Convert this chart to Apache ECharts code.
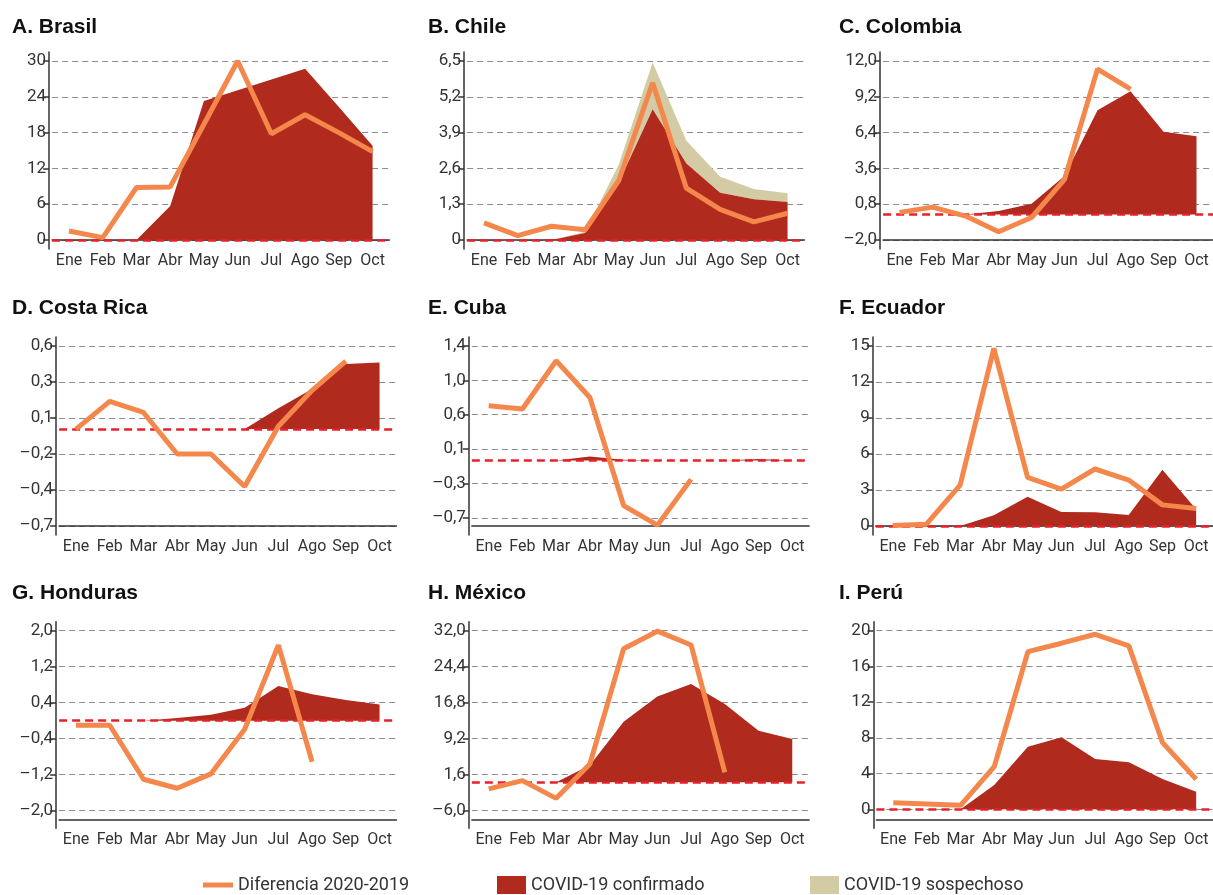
<!DOCTYPE html>
<html>
<head>
<meta charset="utf-8">
<script src="https://cdn.jsdelivr.net/npm/echarts@6/dist/echarts.min.js"></script>
<style>
  html, body { margin: 0; padding: 0; background: #fff; }
  #chart { width: 1213px; height: 895px; }
</style>
</head>
<body>
<div id="chart"></div>
<script>
const meses = ["Ene", "Feb", "Mar", "Abr", "May", "Jun", "Jul", "Ago", "Sep", "Oct"];

// Diferencia 2020-2019 and COVID-19 confirmado, one pair per country
const brasilDif = [1.5, 0.4, 8.8, 8.9, 19.4, 30, 17.8, 21.0, 18.0, 14.8];
const brasilConf = [null, null, 0, 5.7, 23.3, 25.1, 26.9, 28.7, 22.3, 15.8];

const chileDif = [0.62, 0.16, 0.5, 0.37, 2.17, 5.71, 1.88, 1.11, 0.66, 0.97];
const chileConf = [null, null, 0, 0.25, 2.1, 4.75, 2.78, 1.72, 1.48, 1.38];
const chileSosp = [null, null, 0, 0.05, 0.65, 1.7, 0.82, 0.58, 0.37, 0.32];

const colombiaDif = [0.16, 0.57, -0.13, -1.35, -0.24, 2.75, 11.37, 9.8, null, null];
const colombiaConf = [null, null, 0, 0.26, 0.83, 3.0, 8.15, 9.63, 6.46, 6.12];

const costaRicaDif = [0, 0.2, 0.12, -0.18, -0.18, -0.415, 0.02, 0.28, 0.49, null];
const costaRicaConf = [null, null, 0, 0, 0, 0, 0.15, 0.29, 0.47, 0.48];

const cubaDif = [0.67, 0.63, 1.22, 0.77, -0.55, -0.79, -0.23, null, null, null];
const cubaConf = [null, null, 0, 0.05, 0.01, 0, 0, 0, 0.02, 0];

const ecuadorDif = [0.05, 0.15, 3.4, 14.8, 4.05, 3.07, 4.75, 3.83, 1.76, 1.45];
const ecuadorConf = [null, null, 0, 0.9, 2.43, 1.17, 1.15, 0.92, 4.69, 1.4];

const hondurasDif = [-0.1, -0.1, -1.3, -1.5, -1.18, -0.19, 1.68, -0.91, null, null];
const hondurasConf = [null, null, 0, 0.06, 0.13, 0.29, 0.77, 0.59, 0.46, 0.36];

const mexicoDif = [-1.4, 0.35, -3.4, 3.86, 28.2, 31.9, 28.98, 2.1, null, null];
const mexicoConf = [null, null, 0, 3.6, 12.8, 18.1, 20.75, 16.5, 10.9, 9.14];

const peruDif = [0.74, 0.6, 0.45, 4.77, 17.65, 18.6, 19.6, 18.3, 7.46, 3.36];
const peruConf = [null, null, 0, 2.72, 7.0, 8.06, 5.63, 5.26, 3.39, 1.97];

// tick values and the labels printed next to them
const brasilTicks = [0, 6, 12, 18, 24, 30];
const brasilLabels = ["0", "6", "12", "18", "24", "30"];
const chileTicks = [0, 1.3, 2.6, 3.9, 5.2, 6.5];
const chileLabels = ["0", "1,3", "2,6", "3,9", "5,2", "6,5"];
const colombiaTicks = [-2, 0.8, 3.6, 6.4, 9.2, 12];
const colombiaLabels = ["\u20132,0", "0,8", "3,6", "6,4", "9,2", "12,0"];
const costaRicaTicks = [-0.7, -0.44, -0.18, 0.08, 0.34, 0.6];
const costaRicaLabels = ["\u20130,7", "\u20130,4", "\u20130,2", "0,1", "0,3", "0,6"];
const cubaTicks = [-0.7, -0.28, 0.14, 0.56, 0.98, 1.4];
const cubaLabels = ["\u20130,7", "\u20130,3", "0,1", "0,6", "1,0", "1,4"];
const ecuadorTicks = [0, 3, 6, 9, 12, 15];
const ecuadorLabels = ["0", "3", "6", "9", "12", "15"];
const hondurasTicks = [-2, -1.2, -0.4, 0.4, 1.2, 2];
const hondurasLabels = ["\u20132,0", "\u20131,2", "\u20130,4", "0,4", "1,2", "2,0"];
const mexicoTicks = [-6, 1.6, 9.2, 16.8, 24.4, 32];
const mexicoLabels = ["\u20136,0", "1,6", "9,2", "16,8", "24,4", "32,0"];
const peruTicks = [0, 4, 8, 12, 16, 20];
const peruLabels = ["0", "4", "8", "12", "16", "20"];

const panels = [
  { title: "A. Brasil", dif: brasilDif, conf: brasilConf, ticks: brasilTicks, labels: brasilLabels, base: 0 },
  { title: "B. Chile", dif: chileDif, conf: chileConf, sosp: chileSosp, ticks: chileTicks, labels: chileLabels, base: 0 },
  { title: "C. Colombia", dif: colombiaDif, conf: colombiaConf, ticks: colombiaTicks, labels: colombiaLabels, base: -2 },
  { title: "D. Costa Rica", dif: costaRicaDif, conf: costaRicaConf, ticks: costaRicaTicks, labels: costaRicaLabels, base: -0.7 },
  { title: "E. Cuba", dif: cubaDif, conf: cubaConf, ticks: cubaTicks, labels: cubaLabels, base: -0.8 },
  { title: "F. Ecuador", dif: ecuadorDif, conf: ecuadorConf, ticks: ecuadorTicks, labels: ecuadorLabels, base: 0 },
  { title: "G. Honduras", dif: hondurasDif, conf: hondurasConf, ticks: hondurasTicks, labels: hondurasLabels, base: -2.19 },
  { title: "H. M\u00e9xico", dif: mexicoDif, conf: mexicoConf, ticks: mexicoTicks, labels: mexicoLabels, base: -7.82 },
  { title: "I. Per\u00fa", dif: peruDif, conf: peruConf, ticks: peruTicks, labels: peruLabels, base: -1.12 },
];

// layout (pixels)
const rowTopTick = [61, 346, 630.7];
const rowAxisY = [240, 526, 819.3];
const rowTitleTop = [17, 298, 583];
const colTitleLeft = [12, 428, 839];
const eneX = [[69, 484, 900], [76, 488.7, 892.7], [76, 488.7, 893.3]];
const step = 33.73;
const ext = 9;

const ORANGE = "#f4874b";
const RED = "#b02a1d";
const BEIGE = "#d2cba3";
const ZERO = "#e8202a";
const TXT = "#333";
const FONT = "Roboto, sans-serif";

const chart = echarts.init(document.getElementById("chart"));

const grid = [], xAxis = [], yAxis = [], series = [], title = [];

panels.forEach((p, i) => {
  const r = Math.floor(i / 3), c = i % 3;
  const plotH = rowAxisY[r] - rowTopTick[r];
  const top = p.ticks[p.ticks.length - 1];
  const perPx = (top - p.base) / plotH;

  title.push({
    text: p.title,
    left: colTitleLeft[c],
    top: rowTitleTop[r],
    padding: 0,
    textStyle: { fontFamily: '"Liberation Sans", Arial, sans-serif', fontWeight: "bold", fontSize: 21, color: "#111" },
  });

  grid.push({
    left: eneX[r][c] - step / 2,
    top: rowTopTick[r] - ext,
    width: step * 10,
    height: plotH + ext * 2,
  });

  xAxis.push({
    type: "category",
    gridIndex: i,
    data: meses,
    boundaryGap: true,
    offset: -ext,
    axisLine: { onZero: false, lineStyle: { color: TXT, width: 1.5 } },
    axisTick: { alignWithLabel: true, length: 8, lineStyle: { color: TXT, width: 1.5 } },
    axisLabel: { interval: 0, margin: 13, fontFamily: FONT, fontSize: 16, color: TXT },
    splitLine: { show: false },
  });

  yAxis.push({
    type: "value",
    gridIndex: i,
    min: p.base - ext * perPx,
    max: top + ext * perPx,
    offset: 3,
    axisLine: { show: true, lineStyle: { color: TXT, width: 1.5 } },
    axisTick: { show: true, length: 6, customValues: p.ticks, lineStyle: { color: TXT, width: 1.5 } },
    axisLabel: {
      margin: 3,
      fontFamily: FONT,
      fontSize: 17,
      color: TXT,
      customValues: p.ticks,
      formatter: (v) => {
        let k = 0;
        p.ticks.forEach((t, j) => { if (Math.abs(t - v) < Math.abs(p.ticks[k] - v)) k = j; });
        return p.labels[k];
      },
    },
    splitLine: { show: true, lineStyle: { color: "#8c8c8c", type: [6, 4], width: 1 } },
  });

  series.push({
    name: "COVID-19 confirmado",
    type: "line",
    xAxisIndex: i,
    yAxisIndex: i,
    data: p.conf,
    stack: "covid" + i,
    symbol: "none",
    lineStyle: { width: 0 },
    itemStyle: { color: RED },
    areaStyle: { color: RED, opacity: 1 },
    z: 2,
  });

  if (p.sosp) {
    series.push({
      name: "COVID-19 sospechoso",
      type: "line",
      xAxisIndex: i,
      yAxisIndex: i,
      data: p.sosp,
      stack: "covid" + i,
      symbol: "none",
      lineStyle: { width: 0 },
      itemStyle: { color: BEIGE },
      areaStyle: { color: BEIGE, opacity: 1 },
      z: 1,
    });
  }

  series.push({
    name: "Diferencia 2020-2019",
    type: "line",
    xAxisIndex: i,
    yAxisIndex: i,
    data: p.dif,
    symbol: "none",
    connectNulls: false,
    lineStyle: { color: ORANGE, width: 5 },
    itemStyle: { color: ORANGE },
    z: 4,
    markLine: {
      silent: true,
      symbol: "none",
      label: { show: false },
      lineStyle: { color: ZERO, type: [8, 5], width: 2.5 },
      data: [{ yAxis: 0 }],
      z: 3,
    },
  });
});

const legendText = { fontFamily: FONT, fontSize: 18, color: TXT };

chart.setOption({
  animation: false,
  backgroundColor: "#fff",
  title: title,
  grid: grid,
  xAxis: xAxis,
  yAxis: yAxis,
  series: series,
  legend: [
    { data: [{ name: "Diferencia 2020-2019", icon: "rect" }], left: 203, top: 876, padding: 0, itemWidth: 30, itemHeight: 5, textStyle: legendText, selectedMode: false },
    { data: [{ name: "COVID-19 confirmado", icon: "rect" }], left: 497, top: 876, padding: 0, itemWidth: 29, itemHeight: 18, textStyle: legendText, selectedMode: false },
    { data: [{ name: "COVID-19 sospechoso", icon: "rect" }], left: 810, top: 876, padding: 0, itemWidth: 29, itemHeight: 18, textStyle: legendText, selectedMode: false },
  ],
});
</script>
</body>
</html>
